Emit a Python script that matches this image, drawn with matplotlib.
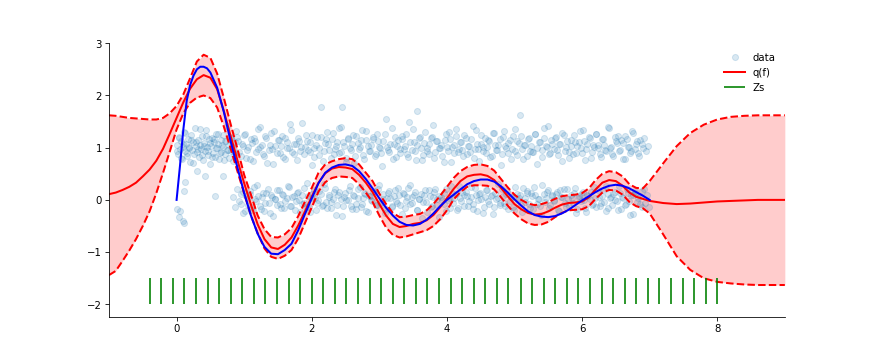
import numpy as np
import matplotlib
matplotlib.use("Agg")
import matplotlib.pyplot as plt

# ---------------- data ----------------
grid_x = [-1.0, -0.9, -0.8, -0.7, -0.6, -0.5, -0.4, -0.3, -0.2, -0.1,
          0.0, 0.1, 0.2, 0.3, 0.4, 0.5, 0.6, 0.7, 0.8, 0.9,
          1.0, 1.1, 1.2, 1.3, 1.4, 1.5, 1.6, 1.7, 1.8, 1.9,
          2.0, 2.1, 2.2, 2.3, 2.4, 2.5, 2.6, 2.7, 2.8, 2.9,
          3.0, 3.1, 3.2, 3.3, 3.4, 3.5, 3.6, 3.7, 3.8, 3.9,
          4.0, 4.1, 4.2, 4.3, 4.4, 4.5, 4.6, 4.7, 4.8, 4.9,
          5.0, 5.1, 5.2, 5.3, 5.4, 5.5, 5.6, 5.7, 5.8, 5.9,
          6.0, 6.1, 6.2, 6.3, 6.4, 6.5, 6.6, 6.7, 6.8, 6.9,
          7.0, 7.2, 7.4, 7.6, 7.8, 8.0, 8.2, 8.4, 8.6, 8.8, 9.0]

q_mean = [0.11, 0.14, 0.19, 0.25, 0.33, 0.45, 0.58, 0.75, 0.98, 1.27,
          1.57, 1.87, 2.13, 2.31, 2.39, 2.34, 2.12, 1.70, 1.22, 0.76,
          0.32, -0.09, -0.47, -0.75, -0.91, -0.94, -0.86, -0.72, -0.49, -0.22,
          0.06, 0.33, 0.51, 0.60, 0.63, 0.62, 0.59, 0.48, 0.33, 0.15,
          -0.08, -0.30, -0.46, -0.52, -0.50, -0.46, -0.44, -0.39, -0.29, -0.14,
          0.03, 0.21, 0.36, 0.45, 0.48, 0.49, 0.46, 0.38, 0.23, 0.07,
          -0.08, -0.18, -0.25, -0.28, -0.27, -0.22, -0.15, -0.09, -0.06, -0.05,
          -0.03, 0.05, 0.20, 0.33, 0.38, 0.36, 0.27, 0.14, 0.06, 0.02,
          -0.02, -0.06, -0.08, -0.07, -0.05, -0.03, -0.02, -0.01, 0.00, 0.00, 0.00]

q_upper = [1.62, 1.61, 1.59, 1.57, 1.56, 1.55, 1.54, 1.54, 1.57, 1.66,
           1.80, 2.02, 2.33, 2.65, 2.78, 2.72, 2.42, 1.95, 1.45, 0.98,
           0.48, 0.10, -0.30, -0.56, -0.71, -0.72, -0.66, -0.54, -0.31, -0.03,
           0.23, 0.52, 0.68, 0.74, 0.78, 0.80, 0.78, 0.68, 0.52, 0.36,
           0.12, -0.08, -0.25, -0.33, -0.32, -0.29, -0.27, -0.20, -0.08, 0.08,
           0.25, 0.42, 0.55, 0.63, 0.67, 0.68, 0.65, 0.56, 0.40, 0.24,
           0.10, 0.00, -0.07, -0.10, -0.08, -0.04, 0.02, 0.07, 0.09, 0.10,
           0.13, 0.22, 0.38, 0.50, 0.55, 0.53, 0.45, 0.30, 0.23, 0.22,
           0.36, 0.70, 1.03, 1.28, 1.44, 1.54, 1.59, 1.61, 1.62, 1.62, 1.62]

q_lower = [-1.44, -1.36, -1.17, -0.97, -0.75, -0.50, -0.22, 0.13, 0.52, 0.93,
           1.35, 1.66, 1.86, 1.96, 2.00, 1.95, 1.77, 1.40, 0.98, 0.55,
           0.12, -0.30, -0.64, -0.93, -1.09, -1.13, -1.07, -0.96, -0.74, -0.44,
           -0.14, 0.16, 0.34, 0.42, 0.45, 0.44, 0.42, 0.30, 0.14, -0.04,
           -0.30, -0.53, -0.67, -0.72, -0.70, -0.66, -0.62, -0.58, -0.50, -0.37,
           -0.20, 0.01, 0.15, 0.25, 0.28, 0.28, 0.27, 0.20, 0.05, -0.11,
           -0.26, -0.37, -0.45, -0.48, -0.47, -0.42, -0.33, -0.25, -0.20, -0.19,
           -0.18, -0.12, 0.02, 0.14, 0.19, 0.18, 0.10, -0.04, -0.12, -0.16,
           -0.26, -0.66, -1.08, -1.34, -1.50, -1.57, -1.60, -1.62, -1.63, -1.63, -1.63]

f_x = [0.0, 0.05, 0.1, 0.15, 0.2, 0.25, 0.3, 0.35, 0.4, 0.45, 0.5,
       0.6, 0.7, 0.8, 0.9, 1.0, 1.1, 1.2, 1.3, 1.4, 1.5, 1.6, 1.7, 1.8, 1.9,
       2.0, 2.1, 2.2, 2.3, 2.4, 2.5, 2.6, 2.7, 2.8, 2.9,
       3.0, 3.1, 3.2, 3.3, 3.4, 3.5, 3.6, 3.7, 3.8, 3.9,
       4.0, 4.1, 4.2, 4.3, 4.4, 4.5, 4.6, 4.7, 4.8, 4.9,
       5.0, 5.1, 5.2, 5.3, 5.4, 5.5, 5.6, 5.7, 5.8, 5.9,
       6.0, 6.1, 6.2, 6.3, 6.4, 6.5, 6.6, 6.7, 6.8, 6.9, 7.0]
f_y = [0.00, 0.65, 1.35, 1.90, 2.20, 2.38, 2.50, 2.55, 2.55, 2.52, 2.44,
       2.15, 1.68, 1.12, 0.62, 0.13, -0.30, -0.65, -0.90, -1.03, -1.04, -0.96, -0.84, -0.58, -0.27,
       0.03, 0.32, 0.52, 0.62, 0.67, 0.68, 0.65, 0.55, 0.40, 0.22,
       0.03, -0.15, -0.30, -0.42, -0.48, -0.49, -0.46, -0.38, -0.26, -0.12,
       0.00, 0.10, 0.20, 0.30, 0.36, 0.39, 0.39, 0.35, 0.26, 0.14,
       0.01, -0.11, -0.22, -0.29, -0.32, -0.33, -0.31, -0.26, -0.19, -0.10,
       -0.01, 0.07, 0.15, 0.22, 0.27, 0.29, 0.27, 0.22, 0.15, 0.08, 0.00]

zs = [-0.40, -0.23, -0.06, 0.11, 0.29, 0.46, 0.63, 0.80, 0.97, 1.14,
      1.31, 1.49, 1.66, 1.83, 2.00, 2.17, 2.34, 2.51, 2.69, 2.86,
      3.03, 3.20, 3.37, 3.54, 3.71, 3.89, 4.06, 4.23, 4.40, 4.57,
      4.74, 4.91, 5.09, 5.26, 5.43, 5.60, 5.77, 5.94, 6.11, 6.29,
      6.46, 6.63, 6.80, 6.97, 7.14, 7.31, 7.49, 7.66, 7.83, 8.00]

upper_x = [0.00, 0.02, 0.03, 0.05, 0.06, 0.08, 0.09, 0.11, 0.12, 0.14,
           0.15, 0.17, 0.18, 0.20, 0.21, 0.23, 0.24, 0.26, 0.27, 0.29,
           0.30, 0.32, 0.33, 0.35, 0.36, 0.38, 0.39, 0.41, 0.42, 0.44,
           0.45, 0.47, 0.48, 0.50, 0.51, 0.53, 0.54, 0.56, 0.57, 0.59,
           0.60, 0.62, 0.63, 0.65, 0.66, 0.68, 0.69, 0.71, 0.72, 0.74,
           0.75, 0.77, 0.78, 0.80, 0.81, 0.83, 0.84, 0.86, 0.87, 0.89,
           0.91, 0.95, 0.98, 1.01, 1.04, 1.08, 1.11, 1.14, 1.18, 1.21,
           1.24, 1.28, 1.31, 1.34, 1.38, 1.41, 1.44, 1.48, 1.51, 1.54,
           1.58, 1.61, 1.64, 1.68, 1.71, 1.74, 1.78, 1.81, 1.84, 1.88,
           1.91, 1.95, 1.98, 2.01, 2.04, 2.08, 2.11, 2.14, 2.18, 2.21,
           2.24, 2.28, 2.31, 2.34, 2.38, 2.41, 2.44, 2.48, 2.51, 2.54,
           2.58, 2.61, 2.64, 2.68, 2.71, 2.74, 2.78, 2.81, 2.84, 2.88,
           2.91, 2.95, 2.98, 3.01, 3.04, 3.08, 3.11, 3.14, 3.18, 3.21,
           3.24, 3.28, 3.31, 3.34, 3.38, 3.41, 3.44, 3.48, 3.51, 3.54,
           3.58, 3.61, 3.64, 3.68, 3.71, 3.74, 3.78, 3.81, 3.84, 3.88,
           3.91, 3.95, 3.98, 4.01, 4.04, 4.08, 4.11, 4.14, 4.18, 4.21,
           4.24, 4.28, 4.31, 4.34, 4.38, 4.41, 4.44, 4.48, 4.51, 4.54,
           4.58, 4.61, 4.64, 4.68, 4.71, 4.74, 4.78, 4.81, 4.84, 4.88,
           4.91, 4.95, 4.98, 5.01, 5.04, 5.08, 5.11, 5.14, 5.18, 5.21,
           5.24, 5.28, 5.31, 5.34, 5.38, 5.41, 5.44, 5.48, 5.51, 5.54,
           5.58, 5.61, 5.64, 5.68, 5.71, 5.74, 5.78, 5.81, 5.84, 5.88,
           5.91, 5.95, 5.98, 6.01, 6.04, 6.08, 6.11, 6.14, 6.18, 6.21,
           6.24, 6.28, 6.31, 6.34, 6.38, 6.41, 6.44, 6.48, 6.51, 6.54,
           6.58, 6.61, 6.64, 6.68, 6.71, 6.74, 6.78, 6.81, 6.84, 6.88,
           6.91, 6.95, 6.98]
upper_y = [1.05, 0.88, 1.21, 0.97, 1.12, 0.79, 1.02, 1.30, 0.93, 1.08,
           0.85, 1.17, 1.00, 0.72, 1.25, 0.95, 1.10, 0.87, 1.38, 1.03,
           0.91, 1.14, 0.82, 1.06, 0.98, 1.22, 0.76, 1.09, 0.94, 1.33,
           1.01, 0.86, 1.16, 0.69, 1.04, 1.19, 0.90, 1.11, 0.83, 1.27,
           0.99, 1.07, 0.78, 1.15, 0.92, 1.02, 1.24, 0.88, 1.13, 0.96,
           1.41, 0.81, 1.06, 0.93, 1.18, 0.74, 1.00, 1.10, 0.89, 1.20,
           1.12, 0.84, 1.03, 1.27, 0.95, 0.78, 1.09, 1.18, 0.91, 1.36,
           1.01, 0.87, 1.22, 0.70, 1.06, 0.97, 1.31, 0.89, 1.15, 1.04,
           0.82, 1.19, 0.99, 1.45, 0.92, 1.08, 0.76, 1.13, 1.02, 0.88,
           1.25, 0.95, 1.10, 0.67, 1.00, 1.21, 0.86, 1.78, 0.94, 1.16,
           1.07, 0.81, 1.29, 0.98, 1.11, 0.90, 1.40, 1.03, 0.73, 1.17,
           0.96, 1.24, 0.85, 1.09, 1.01, 1.33, 0.79, 1.14, 0.93, 1.05,
           1.20, 0.87, 1.12, 0.99, 0.64, 1.26, 1.02, 0.91, 1.37, 1.08,
           0.83, 1.15, 0.97, 1.23, 1.04, 0.88, 1.49, 0.95, 1.10, 0.77,
           1.18, 1.00, 0.86, 1.30, 0.93, 1.07, 1.21, 0.80, 1.13, 0.99,
           1.06, 0.72, 1.27, 0.94, 1.16, 1.02, 0.89, 1.35, 0.98, 1.11,
           0.85, 1.19, 1.03, 0.92, 1.42, 0.97, 1.08, 0.75, 1.24, 1.01,
           0.90, 1.14, 0.82, 1.28, 1.05, 0.96, 1.17, 0.87, 1.32, 1.00,
           1.09, 0.79, 1.22, 0.94, 1.12, 1.62, 0.98, 1.06, 0.84, 1.19,
           1.03, 0.91, 1.26, 0.69, 1.10, 0.95, 1.38, 1.01, 0.88, 1.15,
           0.97, 1.21, 0.86, 1.07, 1.29, 0.93, 1.13, 0.80, 1.04, 1.24,
           0.89, 1.11, 0.99, 1.34, 0.76, 1.08, 1.18, 0.92, 1.02, 1.27,
           1.05, 0.83, 1.16, 0.96, 1.40, 1.00, 0.87, 1.20, 1.09, 0.94,
           1.14, 0.78, 1.23, 1.01, 0.90, 1.31, 0.97, 1.12, 0.85, 1.07,
           1.19, 0.93, 1.04]

upper2_x = [0.01, 0.04, 0.07, 0.10, 0.13, 0.16, 0.19, 0.22, 0.25, 0.28,
            0.31, 0.34, 0.37, 0.40, 0.43, 0.46, 0.49, 0.52, 0.55, 0.58,
            0.61, 0.64, 0.67, 0.70, 0.73, 0.76, 0.79, 0.82, 0.85, 0.88,
            0.93, 0.97, 1.00, 1.03, 1.06, 1.10, 1.13, 1.16, 1.20, 1.23,
            1.26, 1.30, 1.33, 1.36, 1.40, 1.43, 1.46, 1.50, 1.53, 1.56,
            1.60, 1.63, 1.66, 1.70, 1.73, 1.76, 1.80, 1.83, 1.86, 1.90,
            1.93, 1.97, 2.00, 2.03, 2.06, 2.10, 2.13, 2.16, 2.20, 2.23,
            2.26, 2.30, 2.33, 2.36, 2.40, 2.43, 2.46, 2.50, 2.53, 2.56,
            2.60, 2.63, 2.66, 2.70, 2.73, 2.76, 2.80, 2.83, 2.86, 2.90,
            2.93, 2.97, 3.00, 3.03, 3.06, 3.10, 3.13, 3.16, 3.20, 3.23,
            3.26, 3.30, 3.33, 3.36, 3.40, 3.43, 3.46, 3.50, 3.53, 3.56,
            3.60, 3.63, 3.66, 3.70, 3.73, 3.76, 3.80, 3.83, 3.86, 3.90,
            3.93, 3.97, 4.00, 4.03, 4.06, 4.10, 4.13, 4.16, 4.20, 4.23,
            4.26, 4.30, 4.33, 4.36, 4.40, 4.43, 4.46, 4.50, 4.53, 4.56,
            4.60, 4.63, 4.66, 4.70, 4.73, 4.76, 4.80, 4.83, 4.86, 4.90,
            4.93, 4.97, 5.00, 5.03, 5.06, 5.10, 5.13, 5.16, 5.20, 5.23,
            5.26, 5.30, 5.33, 5.36, 5.40, 5.43, 5.46, 5.50, 5.53, 5.56,
            5.60, 5.63, 5.66, 5.70, 5.73, 5.76, 5.80, 5.83, 5.86, 5.90,
            5.93, 5.97, 6.00, 6.03, 6.06, 6.10, 6.13, 6.16, 6.20, 6.23,
            6.26, 6.30, 6.33, 6.36, 6.40, 6.43, 6.46, 6.50, 6.53, 6.56,
            6.60, 6.63, 6.66, 6.70, 6.73, 6.76, 6.80, 6.83, 6.86, 6.90]
upper2_y = [0.94, 1.18, 0.80, 1.07, 1.29, 0.90, 1.02, 1.15, 0.71, 1.11,
            0.98, 1.36, 0.86, 1.04, 1.22, 0.93, 1.09, 0.83, 1.16, 1.00,
            1.26, 0.89, 1.05, 0.77, 1.13, 0.96, 1.20, 1.03, 0.87, 1.31,
            0.92, 1.08, 1.24, 0.81, 1.01, 1.17, 0.74, 1.12, 0.97, 1.39,
            1.06, 0.85, 1.19, 0.95, 1.28, 0.68, 1.03, 1.14, 0.90, 1.22,
            0.79, 1.10, 1.00, 1.34, 0.87, 1.07, 1.18, 0.94, 1.47, 1.02,
            1.13, 0.91, 1.25, 0.83, 1.05, 0.99, 1.21, 0.75, 1.09, 1.30,
            0.96, 1.16, 0.88, 1.03, 1.37, 0.92, 1.11, 0.80, 1.19, 1.00,
            1.08, 0.70, 1.23, 0.97, 1.14, 0.86, 1.32, 1.04, 0.93, 1.17,
            0.84, 1.26, 1.01, 0.90, 1.12, 1.55, 0.95, 1.07, 0.78, 1.20,
            1.03, 0.89, 1.16, 0.98, 1.27, 0.82, 1.10, 1.36, 0.94, 1.05,
            1.21, 0.76, 1.09, 1.00, 0.87, 1.18, 1.44, 0.92, 1.13, 0.99,
            0.85, 1.15, 1.02, 1.30, 0.73, 1.06, 1.23, 0.91, 1.11, 0.96,
            1.25, 0.88, 1.04, 1.17, 0.80, 1.33, 0.97, 1.08, 0.93, 1.19,
            1.01, 1.12, 0.84, 1.28, 0.95, 1.06, 0.66, 1.20, 1.03, 0.90,
            1.14, 0.98, 1.35, 0.86, 1.09, 1.22, 0.79, 1.05, 1.16, 0.94,
            0.91, 1.27, 1.00, 1.11, 0.83, 1.18, 1.04, 1.41, 0.89, 1.07,
            1.19, 0.95, 1.08, 0.74, 1.24, 1.02, 0.92, 1.15, 0.87, 1.10,
            1.03, 1.31, 0.90, 1.13, 0.97, 1.21, 0.81, 1.06, 1.26, 0.99,
            0.88, 1.16, 1.05, 0.93, 1.38, 1.01, 0.85, 1.12, 1.23, 0.96,
            1.09, 0.78, 1.17, 1.02, 0.94, 1.29, 1.07, 0.89, 1.14, 1.00]

lower_x = [0.84, 0.87, 0.90,
           0.93, 0.96, 0.99, 1.03, 1.06, 1.09, 1.13, 1.16, 1.19, 1.23,
           1.26, 1.29, 1.33, 1.36, 1.39, 1.43, 1.46, 1.49, 1.53, 1.56,
           1.59, 1.63, 1.66, 1.69, 1.73, 1.76, 1.79, 1.83, 1.86, 1.89,
           1.93, 1.96, 1.99, 2.03, 2.06, 2.09, 2.13, 2.16, 2.19, 2.23,
           2.26, 2.29, 2.33, 2.36, 2.39, 2.43, 2.46, 2.49, 2.53, 2.56,
           2.59, 2.63, 2.66, 2.69, 2.73, 2.76, 2.79, 2.83, 2.86, 2.89,
           2.93, 2.96, 2.99, 3.03, 3.06, 3.09, 3.13, 3.16, 3.19, 3.23,
           3.26, 3.29, 3.33, 3.36, 3.39, 3.43, 3.46, 3.49, 3.53, 3.56,
           3.59, 3.63, 3.66, 3.69, 3.73, 3.76, 3.79, 3.83, 3.86, 3.89,
           3.93, 3.96, 3.99, 4.03, 4.06, 4.09, 4.13, 4.16, 4.19, 4.23,
           4.26, 4.29, 4.33, 4.36, 4.39, 4.43, 4.46, 4.49, 4.53, 4.56,
           4.59, 4.63, 4.66, 4.69, 4.73, 4.76, 4.79, 4.83, 4.86, 4.89,
           4.93, 4.96, 4.99, 5.03, 5.06, 5.09, 5.13, 5.16, 5.19, 5.23,
           5.26, 5.29, 5.33, 5.36, 5.39, 5.43, 5.46, 5.49, 5.53, 5.56,
           5.59, 5.63, 5.66, 5.69, 5.73, 5.76, 5.79, 5.83, 5.86, 5.89,
           5.93, 5.96, 5.99, 6.03, 6.06, 6.09, 6.13, 6.16, 6.19, 6.23,
           6.26, 6.29, 6.33, 6.36, 6.39, 6.43, 6.46, 6.49, 6.53, 6.56,
           6.59, 6.63, 6.66, 6.69, 6.73, 6.76, 6.79, 6.83, 6.86, 6.89,
           6.93, 6.96, 6.99]
lower_y = [0.05, -0.14, 0.21, -0.03, 0.12, -0.26, 0.08, -0.09, 0.17, -0.19,
           0.02, 0.28, -0.11, 0.06, -0.22, 0.14, -0.05, 0.10, -0.31, 0.01,
           0.19, -0.07, 0.11, -0.16, 0.04, 0.25, -0.12, 0.07, -0.02, 0.15,
           -0.24, 0.09, -0.06, 0.33, -0.13, 0.03, 0.18, -0.20, 0.00, 0.12,
           -0.09, 0.22, -0.15, 0.06, -0.04, 0.16, -0.28, 0.10, 0.02, -0.11,
           0.13, -0.01, 0.26, -0.18, 0.08, -0.07, 0.20, -0.14, 0.04, 0.11,
           -0.23, 0.07, -0.03, 0.17, -0.10, 0.29, -0.06, 0.01, -0.17, 0.14,
           0.03, -0.12, 0.19, -0.05, 0.09, -0.27, 0.12, -0.02, 0.23, -0.08,
           0.06, 0.15, -0.19, 0.02, -0.35, 0.10, -0.04, 0.18, -0.13, 0.05,
           0.21, -0.09, 0.08, -0.01, 0.14, -0.21, 0.03, 0.27, -0.06, 0.11,
           -0.15, 0.04, 0.16, -0.11, 0.07, -0.03, 0.24, -0.18, 0.09, 0.00,
           0.13, -0.25, 0.05, 0.19, -0.08, 0.10, -0.14, 0.02, 0.31, -0.05,
           0.08, -0.12, 0.17, -0.02, 0.06, -0.20, 0.12, 0.03, -0.09, 0.22,
           -0.04, 0.14, -0.16, 0.07, 0.25, -0.07, 0.01, -0.29, 0.11, 0.04,
           0.18, -0.10, 0.09, -0.03, 0.15, -0.22, 0.06, 0.20, -0.13, 0.02,
           0.10, -0.06, 0.23, -0.17, 0.04, 0.12, -0.01, -0.24, 0.08, 0.16,
           -0.08, 0.03, 0.19, -0.12, 0.07, -0.04, 0.26, -0.15, 0.05, 0.11,
           0.00, -0.19, 0.14, 0.06, -0.10, 0.21, -0.02, 0.09, -0.27, 0.13,
           0.04, -0.08, 0.17, -0.05, 0.10, -0.14]

lower2_x = [0.95, 0.98, 1.01, 1.05, 1.08, 1.11, 1.15, 1.18, 1.21, 1.25,
            1.28, 1.31, 1.35, 1.38, 1.41, 1.45, 1.48, 1.51, 1.55, 1.58,
            1.61, 1.65, 1.68, 1.71, 1.75, 1.78, 1.81, 1.85, 1.88, 1.91,
            1.95, 1.98, 2.01, 2.05, 2.08, 2.11, 2.15, 2.18, 2.21, 2.25,
            2.28, 2.31, 2.35, 2.38, 2.41, 2.45, 2.48, 2.51, 2.55, 2.58,
            2.61, 2.65, 2.68, 2.71, 2.75, 2.78, 2.81, 2.85, 2.88, 2.91,
            2.95, 2.98, 3.01, 3.05, 3.08, 3.11, 3.15, 3.18, 3.21, 3.25,
            3.28, 3.31, 3.35, 3.38, 3.41, 3.45, 3.48, 3.51, 3.55, 3.58,
            3.61, 3.65, 3.68, 3.71, 3.75, 3.78, 3.81, 3.85, 3.88, 3.91,
            3.95, 3.98, 4.01, 4.05, 4.08, 4.11, 4.15, 4.18, 4.21, 4.25,
            4.28, 4.31, 4.35, 4.38, 4.41, 4.45, 4.48, 4.51, 4.55, 4.58,
            4.61, 4.65, 4.68, 4.71, 4.75, 4.78, 4.81, 4.85, 4.88, 4.91,
            4.95, 4.98, 5.01, 5.05, 5.08, 5.11, 5.15, 5.18, 5.21, 5.25,
            5.28, 5.31, 5.35, 5.38, 5.41, 5.45, 5.48, 5.51, 5.55, 5.58,
            5.61, 5.65, 5.68, 5.71, 5.75, 5.78, 5.81, 5.85, 5.88, 5.91,
            5.95, 5.98, 6.01, 6.05, 6.08, 6.11, 6.15, 6.18, 6.21, 6.25,
            6.28, 6.31, 6.35, 6.38, 6.41, 6.45, 6.48, 6.51, 6.55, 6.58,
            6.61, 6.65, 6.68, 6.71, 6.75, 6.78, 6.81, 6.85, 6.88, 6.91]
lower2_y = [-0.07, 0.16, -0.21, 0.04, 0.11, -0.13, 0.24, -0.02, 0.08, -0.17,
            0.13, -0.05, 0.20, -0.26, 0.06, 0.01, -0.10, 0.18, -0.15, 0.09,
            -0.03, 0.27, -0.12, 0.05, -0.19, 0.14, 0.00, -0.08, 0.22, -0.14,
            0.07, -0.23, 0.12, 0.03, -0.06, 0.17, -0.11, 0.30, -0.04, 0.10,
            -0.16, 0.02, 0.21, -0.09, 0.15, -0.30, 0.06, -0.01, 0.19, -0.12,
            0.09, -0.18, 0.04, 0.25, -0.07, 0.13, -0.22, 0.08, 0.00, 0.16,
            -0.10, 0.20, -0.05, 0.11, -0.26, 0.03, 0.17, -0.13, 0.07, -0.02,
            0.23, -0.09, 0.14, -0.16, 0.05, 0.28, -0.06, 0.10, -0.20, 0.01,
            0.12, -0.04, 0.18, -0.24, 0.08, -0.11, 0.15, 0.02, -0.33, 0.06,
            -0.08, 0.21, 0.00, -0.15, 0.13, 0.04, -0.19, 0.26, -0.03, 0.09,
            0.16, -0.12, 0.05, -0.07, 0.22, -0.21, 0.11, 0.01, -0.14, 0.19,
            -0.02, 0.08, -0.27, 0.14, 0.03, -0.09, 0.20, -0.05, 0.12, -0.17,
            0.06, -0.13, 0.25, -0.01, 0.10, -0.23, 0.04, 0.17, -0.08, 0.13,
            -0.18, 0.09, 0.02, -0.11, 0.29, -0.04, 0.15, -0.15, 0.07, 0.00,
            0.11, -0.20, 0.18, 0.05, -0.06, 0.21, -0.12, 0.03, 0.14, -0.25,
            0.08, -0.03, 0.16, -0.16, 0.10, 0.01, -0.09, 0.24, -0.14, 0.06,
            -0.05, 0.19, -0.21, 0.12, 0.04, -0.10, 0.15, -0.02, 0.27, -0.17,
            0.03, -0.08, 0.13, -0.28, 0.09, 0.17, -0.04, 0.07, -0.13, 0.20]

stray_x = [0.01, 0.03, 0.05, 0.10, 0.11, 0.12, 0.11, 0.42, 0.57, 0.69, 0.30, 2.45, 3.55]
stray_y = [-0.18, -0.32, -0.22, -0.40, -0.45, 0.34, 0.17, 0.46, 0.08, 0.46, 0.55, 1.78, 1.70]

# ---------------- plotting ----------------
def pair(a, b):
    n = min(len(a), len(b))
    return np.asarray(a[:n], float), np.asarray(b[:n], float)

parts = [pair(upper_x, upper_y), pair(upper2_x, upper2_y),
         pair(lower_x, lower_y), pair(lower2_x, lower2_y),
         pair(stray_x, stray_y)]
X = np.concatenate([p[0] for p in parts])
Y = np.concatenate([p[1] for p in parts])

gx = np.asarray(grid_x)
fig = plt.figure(figsize=(12, 5), dpi=72.67)
ax = fig.add_axes([0.125, 0.127, 0.775, 0.753])

ax.plot(X, Y, 'o', color='C0', alpha=0.17, markersize=6, label='data')
ax.fill_between(gx, q_lower, q_upper, color='red', alpha=0.2, linewidth=0)
ax.plot(gx, q_mean, color='red', lw=2, label='q(f)')
ax.plot(gx, q_upper, color='red', lw=2, ls='--')
ax.plot(gx, q_lower, color='red', lw=2, ls='--')
ax.plot(f_x, f_y, color='blue', lw=2)
ax.vlines(zs, -2.0, -1.5, colors='green', lw=1.6, label='Zs')

ax.set_xlim(-1, 9)
ax.set_ylim(-2.24, 3.0)
ax.set_xticks([0, 2, 4, 6, 8])
ax.set_yticks([-2, -1, 0, 1, 2, 3])
ax.spines['top'].set_visible(False)
ax.spines['right'].set_visible(False)
ax.legend(loc='upper right', frameon=False)

fig.savefig('out.png', dpi=72.67)
